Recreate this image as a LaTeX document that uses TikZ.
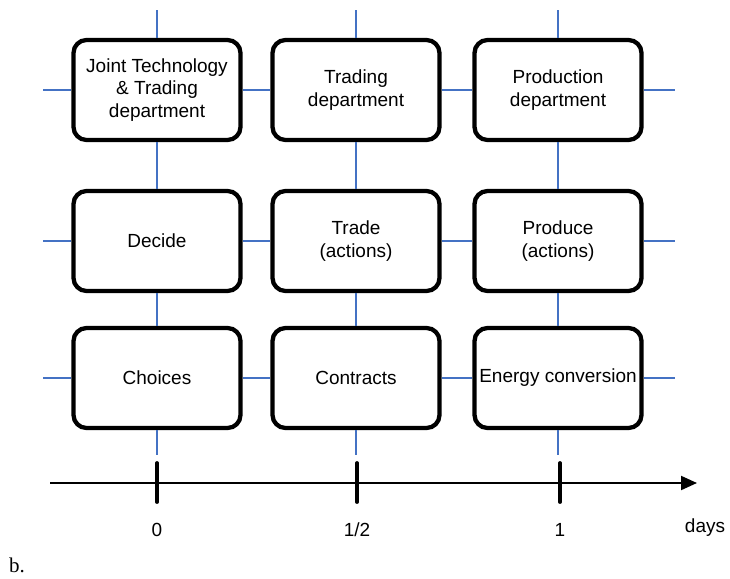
\documentclass[tikz,border=0pt]{standalone}
\usepackage{fontspec}
\setmainfont{Liberation Sans}
\newfontfamily\capfont{Liberation Serif}
\usetikzlibrary{arrows.meta}
\definecolor{linkblue}{RGB}{68,114,196}

\begin{document}
\begin{tikzpicture}[x=1pt,y=-1pt,font=\fontsize{19}{22.5}\selectfont,
  box/.style={draw,line width=4.3pt,rounded corners=13pt,minimum width=167pt,
    minimum height=100pt,align=center,inner sep=2pt},
  link/.style={draw=linkblue,line width=2.2pt}]
  \useasboundingbox (0,0) rectangle (730,578);

  % boxes
  \node[box] (jt) at (157,90) {Joint Technology\\\& Trading\\department};
  \node[box] (td) at (356,90) {Trading\\department};
  \node[box] (pd) at (558,90) {Production\\department};

  \node[box] (dc) at (157,241) {Decide};
  \node[box] (tr) at (356,241) {Trade\\(actions)};
  \node[box] (pr) at (558,241) {Produce\\(actions)};

  \node[box] (ch) at (157,378) {Choices};
  \node[box] (ct) at (356,378) {Contracts};
  \node[box] (ec) at (558,378) {Energy conversion};

  % stubs on the outside
  \foreach \n in {jt,td,pd} \draw[link] (\n.north) -- (\n.north |- 0,10);
  \foreach \n in {ch,ct,ec} \draw[link] (\n.south) -- (\n.south |- 0,455);
  \foreach \n in {jt,dc,ch} \draw[link] (\n.west) -- (\n.west -| 43,0);
  \foreach \n in {pd,pr,ec} \draw[link] (\n.east) -- (\n.east -| 675,0);
  % links between boxes
  \foreach \a/\b in {jt/td,td/pd,dc/tr,tr/pr,ch/ct,ct/ec}
    \draw[link] (\a.east) -- (\b.west);
  \foreach \a/\b in {jt/dc,dc/ch,td/tr,tr/ct,pd/pr,pr/ec}
    \draw[link] (\a.south) -- (\b.north);

  % time axis
  \coordinate (t0) at (50,483);
  \coordinate (t1) at (697,483);
  \draw[line width=2pt,-{Triangle[length=16pt,width=14pt]}] (t0) -- (t1);
  \foreach \x/\lbl/\nm in {157/0/d0,357/{1/2}/dh,560/1/d1} {
    \draw[line width=3.8pt,line cap=round] (\x,463) -- (\x,502);
    \node (\nm) at (\x,530) {\lbl};
  }
  \node (days) at (705,528) {days};
  \node[font=\capfont\fontsize{21}{24}\selectfont] (cap) at (17,565) {b.};
\end{tikzpicture}
\end{document}
